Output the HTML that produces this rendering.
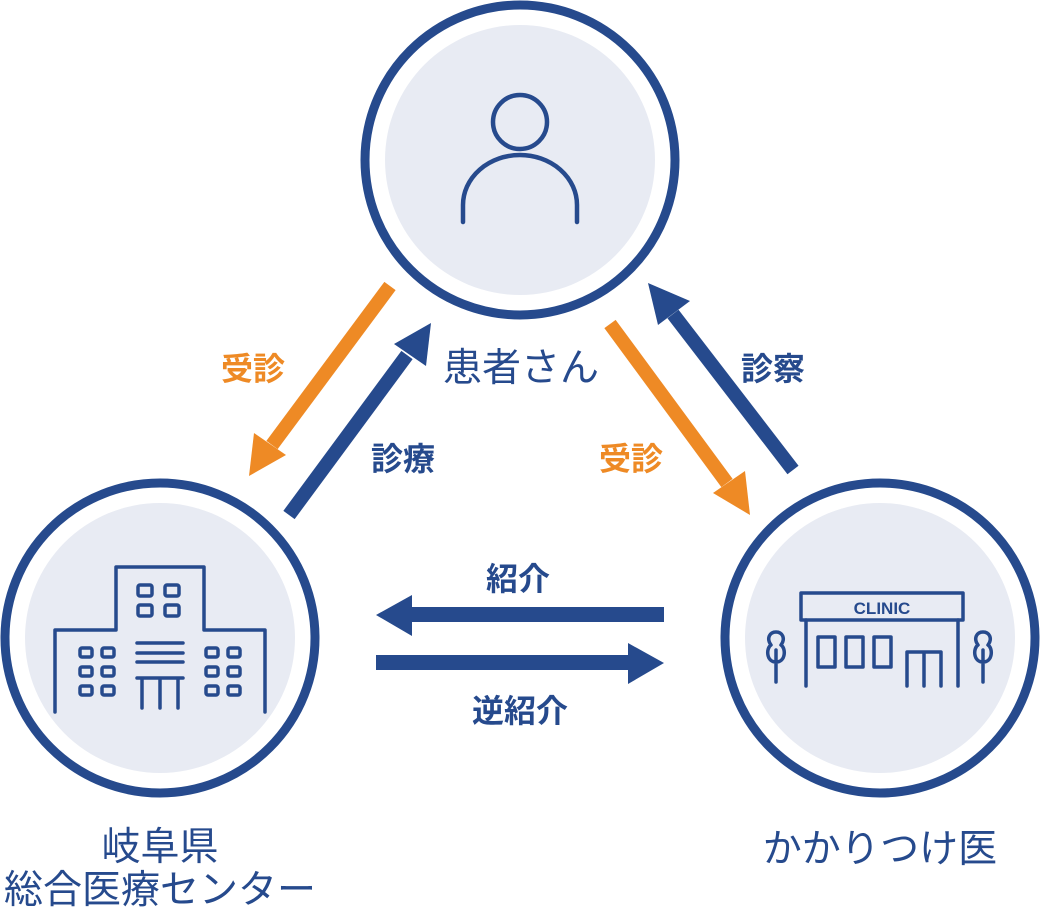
<!DOCTYPE html>
<html><head><meta charset="utf-8"><style>
html,body{margin:0;padding:0;background:#fff}
svg{display:block}
text{font-family:"Liberation Sans","Noto Sans CJK JP",sans-serif}
</style></head><body>
<svg width="1040" height="910" viewBox="0 0 1040 910" xmlns="http://www.w3.org/2000/svg">
<g fill="#e8ebf3">
<circle cx="520" cy="160" r="135"/>
<circle cx="160" cy="638" r="135"/>
<circle cx="880" cy="638" r="135"/>
</g>
<g fill="none" stroke="#264a8d" stroke-width="9">
<circle cx="520" cy="160" r="155"/>
<circle cx="160" cy="638" r="155"/>
<circle cx="880" cy="638" r="155"/>
</g>
<!-- person -->
<g fill="none" stroke="#264a8d" stroke-width="4.5" stroke-linecap="round">
<circle cx="520" cy="122" r="27"/>
<path d="M463 222 V205 A57 50 0 0 1 577 205 V222"/>
</g>
<!-- building -->
<g fill="none" stroke="#264a8d" stroke-width="3.5" stroke-linecap="round" stroke-linejoin="round">
<path d="M55 712 V630 H116 V567 H204 V630 H265 V712"/>
<rect x="138" y="585" width="14" height="11" rx="2"/><rect x="165" y="585" width="14" height="11" rx="2"/>
<rect x="138" y="605" width="14" height="11" rx="2"/><rect x="165" y="605" width="14" height="11" rx="2"/>
<rect x="80" y="648" width="12" height="9" rx="2"/><rect x="102" y="648" width="12" height="9" rx="2"/>
<rect x="80" y="667" width="12" height="9" rx="2"/><rect x="102" y="667" width="12" height="9" rx="2"/>
<rect x="80" y="686" width="12" height="9" rx="2"/><rect x="102" y="686" width="12" height="9" rx="2"/>
<rect x="206" y="648" width="12" height="9" rx="2"/><rect x="228" y="648" width="12" height="9" rx="2"/>
<rect x="206" y="667" width="12" height="9" rx="2"/><rect x="228" y="667" width="12" height="9" rx="2"/>
<rect x="206" y="686" width="12" height="9" rx="2"/><rect x="228" y="686" width="12" height="9" rx="2"/>
<path d="M137 643 H183 M137 653 H183 M137 662 H183 M137 678 H183 M142 678 V708 M160 678 V708 M178 678 V708"/>
</g>
<!-- clinic -->
<g fill="none" stroke="#264a8d" stroke-width="3.5" stroke-linecap="round" stroke-linejoin="round">
<rect x="801" y="593" width="162" height="27"/>
<path d="M806 620 V686 M958 620 V686"/>
<rect x="818" y="637" width="17" height="30"/><rect x="846" y="637" width="17" height="30"/><rect x="874" y="637" width="17" height="30"/>
<path d="M907 686 V652 H941 V686 M924 652 V686"/>
<path d="M776 682 V650 M776 662 C766 662 766 648 771 645 C766 638 770 632 776 632 C782 632 786 638 781 645 C786 648 786 662 776 662"/>
<path d="M983 682 V650 M983 662 C973 662 973 648 978 645 C973 638 977 632 983 632 C989 632 993 638 988 645 C993 648 993 662 983 662"/>
</g>
<text x="882" y="614" font-size="17" font-weight="bold" fill="#264a8d" text-anchor="middle">CLINIC</text>
<!-- diagonal arrows -->
<g stroke-width="14">
<line x1="390" y1="286" x2="272" y2="445" stroke="#ee8a25"/>
<line x1="289" y1="515" x2="407" y2="355" stroke="#264a8d"/>
<line x1="610" y1="324" x2="727" y2="483" stroke="#ee8a25"/>
<line x1="793" y1="470" x2="673" y2="314" stroke="#264a8d"/>
</g>
<polygon points="249,476 254,433 286,455" fill="#ee8a25"/>
<polygon points="431,323 426,366 394,344" fill="#264a8d"/>
<polygon points="750,515 713,493 745,471" fill="#ee8a25"/>
<polygon points="648,283 690,301 658,325" fill="#264a8d"/>
<!-- horizontal arrows -->
<g fill="#264a8d">
<rect x="405" y="607" width="259" height="15"/>
<polygon points="376,615 412,595 412,636"/>
<rect x="376" y="655" width="256" height="15"/>
<polygon points="664,663 628,643 628,684"/>
</g>
<!-- labels -->
<g font-weight="bold" font-size="32">
<text x="253" y="380" fill="#ee8a25" text-anchor="middle">受診</text>
<text x="403" y="470" fill="#264a8d" text-anchor="middle">診療</text>
<text x="773" y="380" fill="#264a8d" text-anchor="middle">診察</text>
<text x="631" y="470" fill="#ee8a25" text-anchor="middle">受診</text>
<text x="518" y="590" fill="#264a8d" text-anchor="middle">紹介</text>
<text x="520" y="722" fill="#264a8d" text-anchor="middle">逆紹介</text>
</g>
<g font-size="39" fill="#264a8d" text-anchor="middle">
<text x="521" y="381">患者さん</text>
<text x="160" y="860">岐阜県</text>
<text x="160" y="903">総合医療センター</text>
<text x="880" y="862">かかりつけ医</text>
</g>
</svg>
</body></html>
